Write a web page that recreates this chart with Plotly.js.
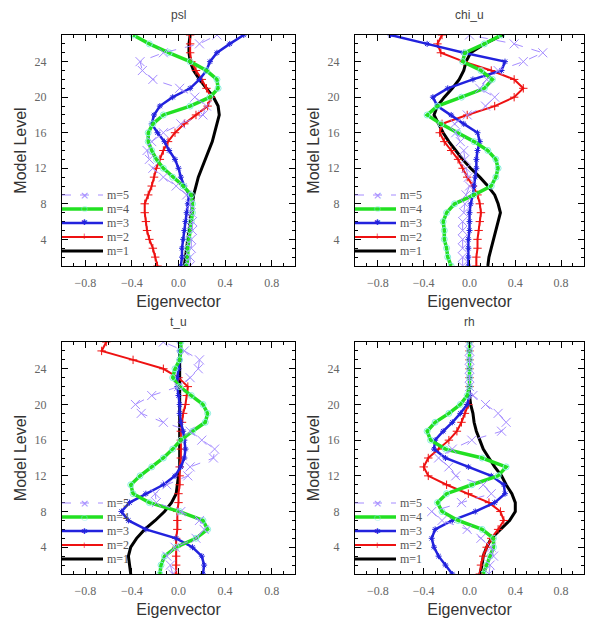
<!DOCTYPE html>
<html><head><meta charset="utf-8">
<script src="https://cdn.plot.ly/plotly-3.0.1.min.js"></script>
<style>html,body{margin:0;padding:0;background:#fff}#plot{width:595px;height:622px}</style>
</head><body><div id="plot"></div>
<script>
// Model levels 1..27
const levels = [1,2,3,4,5,6,7,8,9,10,11,12,13,14,15,16,17,18,19,20,21,22,23,24,25,26,27];
const panelTitles = ["psl","chi_u","t_u","rh"];
const modeNames = ["m=1","m=2","m=3","m=4","m=5"];
const xTickVals = [-0.8,-0.4,0.0,0.4,0.8];
const xTickText = ["\u22120.8","\u22120.4","0.0","0.4","0.8"];
const yTickVals = [4,8,12,16,20,24];

// psl
const psl_m1 = [0.05,0.06,0.07,0.08,0.09,0.10,0.11,0.12,0.13,0.15,0.17,0.20,0.23,0.26,0.29,0.31,0.33,0.35,0.34,0.30,0.24,0.18,0.13,0.10,0.09,0.09,0.10];
const psl_m2 = [-0.18,-0.20,-0.22,-0.25,-0.27,-0.28,-0.29,-0.29,-0.26,-0.23,-0.21,-0.19,-0.16,-0.13,-0.09,-0.03,0.05,0.15,0.25,0.28,0.24,0.20,0.15,0.11,0.10,0.10,0.10];
const psl_m3 = [0.02,0.03,0.03,0.04,0.05,0.06,0.07,0.08,0.09,0.05,0.02,0.00,-0.03,-0.08,-0.12,-0.18,-0.23,-0.21,-0.16,-0.05,0.10,0.18,0.24,0.27,0.33,0.44,0.56];
const psl_m4 = [0.07,0.08,0.08,0.09,0.10,0.11,0.12,0.12,0.11,0.04,-0.05,-0.13,-0.19,-0.23,-0.26,-0.26,-0.22,-0.13,0.10,0.27,0.34,0.33,0.24,0.10,-0.08,-0.25,-0.39];
const psl_m5 = [0.10,0.10,0.11,0.11,0.12,0.12,0.11,0.10,0.07,-0.02,-0.13,-0.22,-0.25,-0.27,-0.23,-0.13,0.02,0.21,0.24,0.14,0.01,-0.22,-0.31,-0.33,-0.13,0.18,0.33];
// chi_u
const chi_m1 = [0.16,0.17,0.19,0.21,0.23,0.25,0.27,0.25,0.22,0.16,0.09,0.01,-0.06,-0.12,-0.18,-0.23,-0.27,-0.31,-0.28,-0.22,-0.15,-0.09,-0.05,-0.03,0.01,0.13,0.29];
const chi_m2 = [0.06,0.06,0.07,0.07,0.08,0.09,0.10,0.09,0.07,0.03,-0.02,-0.06,-0.10,-0.16,-0.22,-0.26,-0.24,-0.02,0.22,0.39,0.47,0.39,0.19,-0.05,-0.25,-0.28,-0.24];
const chi_m3 = [-0.01,-0.01,-0.01,-0.01,0.00,0.00,0.00,0.01,0.03,0.04,0.05,0.06,0.06,0.07,0.09,0.07,-0.05,-0.16,-0.28,-0.32,-0.19,0.03,0.28,0.31,-0.05,-0.37,-0.69];
const chi_m4 = [-0.16,-0.19,-0.20,-0.22,-0.22,-0.23,-0.20,-0.13,0.04,0.19,0.23,0.25,0.23,0.16,0.04,-0.10,-0.25,-0.37,-0.28,-0.07,0.13,0.20,0.10,-0.06,-0.04,0.13,0.28];
const chi_m5 = [-0.06,-0.06,-0.06,-0.06,-0.06,-0.06,-0.05,-0.04,-0.03,0.00,-0.01,-0.03,-0.04,-0.05,-0.08,-0.12,-0.13,-0.02,0.14,0.22,0.09,0.15,0.25,0.47,0.64,0.39,0.00];
// t_u
const tu_m1 = [-0.41,-0.42,-0.43,-0.41,-0.36,-0.29,-0.20,-0.12,-0.06,-0.02,-0.01,0.00,0.01,0.01,0.01,0.01,0.01,0.01,0.01,0.01,0.01,0.01,0.01,0.01,0.01,0.01,0.01];
const tu_m2 = [-0.02,-0.02,-0.02,-0.02,-0.02,-0.01,-0.01,-0.01,0.00,0.00,0.01,0.01,0.01,0.02,0.02,0.02,0.02,0.03,0.04,0.06,0.07,0.08,0.00,-0.13,-0.39,-0.66,-0.62];
const tu_m3 = [0.21,0.22,0.20,0.12,-0.02,-0.28,-0.43,-0.49,-0.42,-0.28,-0.13,-0.03,0.02,0.05,0.06,0.05,0.04,0.02,0.01,0.01,0.00,-0.01,-0.01,0.00,0.01,0.01,0.01];
const tu_m4 = [-0.16,-0.15,-0.12,-0.02,0.15,0.25,0.21,0.01,-0.25,-0.39,-0.41,-0.33,-0.23,-0.13,-0.05,0.02,0.12,0.23,0.25,0.21,0.11,0.01,-0.05,-0.03,0.01,0.02,0.02];
const tu_m5 = [-0.05,-0.07,-0.10,-0.03,0.15,0.22,0.18,0.02,-0.19,-0.20,-0.10,0.08,0.10,0.30,0.31,0.20,0.10,-0.13,-0.32,-0.37,-0.23,0.00,0.10,0.17,0.18,0.05,-0.13];
// rh
const rh_m1 = [0.09,0.11,0.12,0.15,0.19,0.27,0.35,0.40,0.40,0.37,0.32,0.28,0.22,0.17,0.12,0.09,0.06,0.04,0.03,0.01,0.00,0.00,0.00,0.00,0.00,0.00,0.00];
const rh_m2 = [0.09,0.10,0.12,0.15,0.19,0.25,0.30,0.27,0.17,-0.01,-0.20,-0.36,-0.40,-0.36,-0.27,-0.18,-0.11,-0.07,-0.04,-0.01,0.00,0.00,0.00,0.00,0.00,0.00,0.00];
const rh_m3 = [-0.15,-0.21,-0.27,-0.31,-0.33,-0.30,-0.15,0.05,0.22,0.31,0.30,0.19,-0.01,-0.21,-0.31,-0.30,-0.23,-0.15,-0.08,-0.02,0.00,0.00,0.00,0.00,0.00,0.00,0.00];
const rh_m4 = [0.12,0.15,0.18,0.21,0.21,0.11,-0.10,-0.24,-0.28,-0.20,0.02,0.25,0.32,0.11,-0.21,-0.34,-0.37,-0.30,-0.18,-0.08,-0.02,0.00,0.00,0.00,0.00,0.00,0.00];
const rh_m5 = [0.17,0.18,0.21,0.19,0.10,-0.02,-0.24,-0.33,-0.07,0.19,0.12,-0.12,-0.18,-0.27,-0.15,0.02,0.28,0.32,0.25,0.14,0.03,0.00,0.00,0.00,0.00,0.00,0.00];

const panels = [
  [psl_m1,psl_m2,psl_m3,psl_m4,psl_m5],
  [chi_m1,chi_m2,chi_m3,chi_m4,chi_m5],
  [tu_m1,tu_m2,tu_m3,tu_m4,tu_m5],
  [rh_m1,rh_m2,rh_m3,rh_m4,rh_m5]
];

const styles = [
  {line:{color:'#000000',width:3}, mode:'lines'},
  {line:{color:'#ee1111',width:2}, mode:'lines+markers', marker:{symbol:'cross-thin-open',size:6,color:'#ee1111',line:{width:1,color:'#ee1111'}}},
  {line:{color:'#2222dd',width:2.5}, mode:'lines+markers', marker:{symbol:'asterisk-open',size:5,color:'#2222dd',line:{width:1,color:'#2222dd'}}},
  {line:{color:'#22e022',width:3.5}, mode:'lines+markers', marker:{symbol:'circle-open',size:6,color:'#88eedd',line:{width:1,color:'#88eedd'}}},
  {line:{color:'#a58cff',width:1,dash:'dash'}, mode:'lines+markers', marker:{symbol:'x-thin-open',size:9,color:'#a58cff',line:{width:1,color:'#a58cff'}}}
];
const legendGlyphs = ['', '+', '\u2731', '\u25CB', '\u00D7'];

const traces = [];
panels.forEach((series, p) => {
  const ax = p === 0 ? '' : String(p+1);
  series.forEach((vals, m) => {
    const s = styles[m];
    traces.push(Object.assign({
      type:'scatter', x: vals, y: levels, xaxis:'x'+ax, yaxis:'y'+ax,
      name: modeNames[m], showlegend:false, hoverinfo:'skip'
    }, JSON.parse(JSON.stringify(s))));
  });
});

const W = 595, H = 622;
const colX = [[62,295],[355,584]];
const rowY = [[35,266],[342,574]];
const serif = "'Liberation Serif', 'Times New Roman', 'DejaVu Serif', serif";
const tickFont = {family:serif, size:12, color:'#666'};
const titleFont = {family:"'Liberation Sans', Arial, sans-serif", size:16, color:'#333'};

const layout = {
  width:W, height:H, margin:{l:0,r:0,t:0,b:0}, paper_bgcolor:'#fff', plot_bgcolor:'#fff',
  showlegend:false, shapes:[], annotations:[]
};

for (let p=0;p<4;p++){
  const c = colX[p%2], r = rowY[Math.floor(p/2)];
  const ax = p===0?'':String(p+1);
  layout['xaxis'+ax] = {
    domain:[c[0]/W, c[1]/W], anchor:'y'+ax, range:[-1,1],
    tickmode:'array', tickvals:xTickVals, ticktext:xTickText,
    ticks:'inside', ticklen:6, tickwidth:1, tickcolor:'#000',
    minor:{dtick:0.1, tick0:0, ticks:'inside', ticklen:3, tickcolor:'#000', showgrid:false},
    showline:true, linecolor:'#000', linewidth:1, mirror:'ticks',
    showgrid:false, zeroline:false, tickfont:tickFont, ticklabelstandoff:6,
    title:{text:'Eigenvector', font:titleFont, standoff:6}
  };
  layout['yaxis'+ax] = {
    domain:[(H-r[1])/H, (H-r[0])/H], anchor:'x'+ax, range:[1,27],
    tickmode:'array', tickvals:yTickVals,
    ticks:'inside', ticklen:6, tickwidth:1, tickcolor:'#000',
    minor:{dtick:1, tick0:0, ticks:'inside', ticklen:3, tickcolor:'#000', showgrid:false},
    showline:true, linecolor:'#000', linewidth:1, mirror:'ticks',
    showgrid:false, zeroline:false, tickfont:tickFont, ticklabelstandoff:12,
    title:{text:'Model Level', font:titleFont, standoff:3}
  };
  // subplot title
  layout.annotations.push({
    text: panelTitles[p], xref:'paper', yref:'paper',
    x:(c[0]+c[1])/2/W, y:(H-(r[0]-20))/H, xanchor:'center', yanchor:'middle',
    showarrow:false, font:{family:"'Liberation Sans', Arial, sans-serif", size:12, color:'#444'}
  });
  // legend (drawn per panel, bottom-left)
  const pw = c[1]-c[0], ph = r[1]-r[0];
  for (let m=0;m<5;m++){
    const yOff = 15 + 14*m;
    const yy = yOff/ph;
    const s = styles[m];
    layout.shapes.push({
      type:'line', xref:'x'+ax+' domain', yref:'y'+ax+' domain',
      x0:0, x1:41/pw, y0:yy, y1:yy,
      line:{color:s.line.color, width:s.line.width, dash:s.line.dash||'solid'}
    });
    if (legendGlyphs[m]) {
      layout.annotations.push({
        text: legendGlyphs[m], xref:'x'+ax+' domain', yref:'y'+ax+' domain',
        x:22/pw, y:yy, xanchor:'center', yanchor:'middle', showarrow:false,
        font:{family:"'DejaVu Sans', sans-serif", size: m===4?11:8, color: s.marker.color}
      });
    }
    layout.annotations.push({
      text: modeNames[m], xref:'x'+ax+' domain', yref:'y'+ax+' domain',
      x:43/pw, y:yy, xanchor:'left', yanchor:'middle', showarrow:false,
      font:{family:serif, size:12, color:'#555'}
    });
  }
}

Plotly.newPlot('plot', traces, layout, {staticPlot:true, displayModeBar:false});
</script>
</body></html>
